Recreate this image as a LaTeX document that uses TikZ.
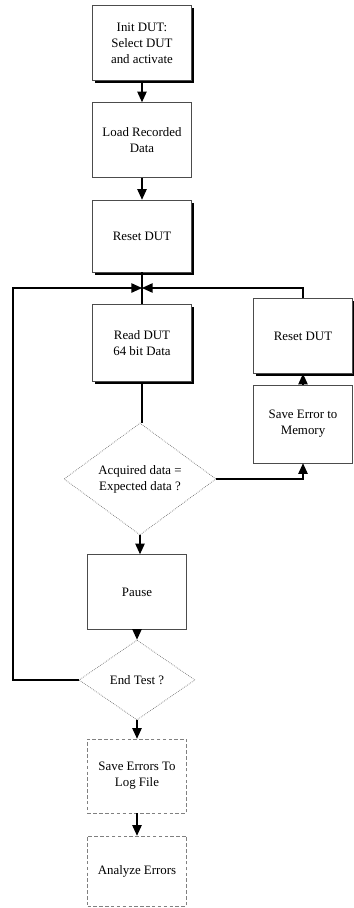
\documentclass[tikz,border=0pt]{standalone}
\usepackage{fontspec}
\setmainfont{Liberation Serif}
\usetikzlibrary{shapes.geometric,arrows.meta,shadows}
\newlength{\du}
\setlength{\du}{0.03cm}

\begin{document}
\begin{tikzpicture}[x=1\du,y=-1\du,
  every node/.style={font=\fontsize{11}{13.5}\selectfont,align=center},
  stepbox/.style={draw=black!70,line width=0.5pt,fill=white,inner sep=0pt,
    minimum width=99\du,minimum height=75\du},
  shadowbox/.style={stepbox,drop shadow={shadow xshift=2.5pt,shadow yshift=-2.5pt,opacity=1,fill=black}},
  faintbox/.style={stepbox,draw=black!50,dash pattern=on 3pt off 2pt},
  testbox/.style={diamond,draw=black!55,densely dotted,line width=0.6pt,fill=white,inner sep=0pt},
  link/.style={draw=black,line width=1pt},
  conn/.style={link,-{Triangle[length=9pt,width=8pt]}}]
\useasboundingbox (0,0) rectangle (353,908);
% main column
\node[shadowbox] (init) at (142,43) {Init DUT:\\Select DUT\\and activate};
\node[stepbox] (load) at (142,140) {Load Recorded\\Data};
\node[shadowbox,minimum height=72\du] (reset) at (142,236) {Reset DUT};
\coordinate (merge) at (142,288);
\node[shadowbox,minimum height=77\du] (read) at (142,343) {Read DUT\\64 bit Data};
\node[testbox,minimum width=152\du,minimum height=112\du] (acq) at (140,479) {Acquired data =\\Expected data ?};
\node[stepbox] (pause) at (137,592) {Pause};
\node[testbox,minimum width=116\du,minimum height=80\du] (endtest) at (137,680) {End Test ?};
\node[faintbox,minimum height=74\du] (savelog) at (137,776) {Save Errors To\\Log File};
\node[faintbox,minimum height=70\du] (analyze) at (137,871) {Analyze Errors};
% error branch
\node[shadowbox] (resetr) at (303,336) {Reset DUT};
\node[stepbox,minimum height=78\du] (saveerr) at (303,424) {Save Error to\\Memory};
\coordinate (lcorner) at (13,680);
% connectors
\draw[conn] (init) -- (load);
\draw[conn] (load) -- (reset);
\draw[link] (reset) -- (read);
\draw[link] (read.south) -- (read.south |- acq.north);
\draw[conn] (acq.east) -| (saveerr.south);
\draw[conn] (saveerr) -- (resetr);
\draw[conn] (resetr.north) |- (merge);
\draw[conn] (endtest.west) -- (lcorner) |- (merge);
\draw[conn] (acq.south) -- (acq.south |- pause.north);
\draw[conn] (pause) -- (endtest);
\draw[conn] (endtest) -- (savelog);
\draw[conn] (savelog) -- (analyze);
\end{tikzpicture}
\end{document}
